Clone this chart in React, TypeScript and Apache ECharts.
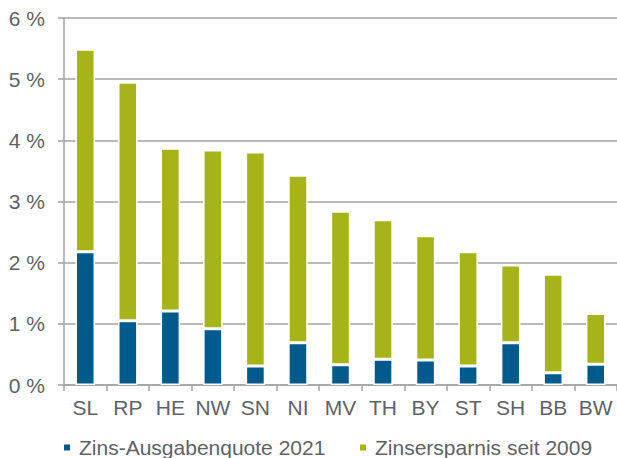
import React, { useEffect, useRef } from "react";
import * as echarts from "echarts";

const categories = ["SL", "RP", "HE", "NW", "SN", "NI", "MV", "TH", "BY", "ST", "SH", "BB", "BW"];
const zinsQuote = [2.18, 1.05, 1.21, 0.92, 0.31, 0.69, 0.33, 0.42, 0.41, 0.31, 0.69, 0.2, 0.34];
const totals = [5.49, 4.95, 3.87, 3.84, 3.81, 3.43, 2.84, 2.7, 2.44, 2.18, 1.96, 1.81, 1.17];
const ersparnis = totals.map((t, i) => +(t - zinsQuote[i]).toFixed(2));
const yTicks = [0, 1, 2, 3, 4, 5, 6];

export default function App() {
  const ref = useRef<HTMLDivElement>(null);
  useEffect(() => {
    document.body.style.margin = "0";
    const chart = echarts.init(ref.current!, null, { renderer: "svg" });
    const textColor = "#5f6266";
    const lineColor = "#a3a3a3";
    const font = "Liberation Sans, Arial, sans-serif";
    const legendText = { fontSize: 21, lineHeight: 20, color: textColor, fontFamily: font, padding: [0, 0, 0, 3] };
    chart.setOption({
      animation: false,
      textStyle: { fontFamily: font },
      grid: { left: 64, right: 0, top: 18, bottom: 73, containLabel: false },
      legend: [
        {
          data: ["Zins-Ausgabenquote 2021"],
          left: 62,
          top: 437,
          icon: "rect",
          itemWidth: 8,
          itemHeight: 8,
          itemGap: 8,
          textStyle: legendText,
          padding: 0,
        },
        {
          data: ["Zinsersparnis seit 2009"],
          left: 358,
          top: 437,
          icon: "rect",
          itemWidth: 8,
          itemHeight: 8,
          textStyle: legendText,
          padding: 0,
        },
      ],
      xAxis: {
        type: "category",
        data: categories,
        axisLine: { show: true, lineStyle: { color: lineColor, width: 1.5 } },
        axisTick: { show: true, length: 6, lineStyle: { color: lineColor, width: 1.5 } },
        axisLabel: { fontSize: 21, color: textColor, margin: 12, interval: 0 },
      },
      yAxis: {
        type: "value",
        min: yTicks[0],
        max: yTicks[yTicks.length - 1],
        interval: 1,
        axisLine: { show: true, lineStyle: { color: lineColor, width: 1.5 } },
        axisTick: { show: true, length: 6, lineStyle: { color: lineColor, width: 1.5 } },
        splitLine: { show: true, lineStyle: { color: lineColor, width: 1.5 } },
        axisLabel: { fontSize: 21, color: textColor, margin: 19, formatter: (v: number) => v + " %" },
      },
      series: [
        {
          name: "Zins-Ausgabenquote 2021",
          type: "bar",
          stack: "a",
          data: zinsQuote,
          barWidth: "46%",
          itemStyle: { color: "#005A8B", borderColor: "#ffffff", borderWidth: 1.5 },
        },
        {
          name: "Zinsersparnis seit 2009",
          type: "bar",
          stack: "a",
          data: ersparnis,
          barWidth: "46%",
          itemStyle: { color: "#A6B41A", borderColor: "#ffffff", borderWidth: 1.5 },
        },
      ],
    });
    return () => chart.dispose();
  }, []);
  return <div ref={ref} style={{ width: 617, height: 458 }} />;
}
